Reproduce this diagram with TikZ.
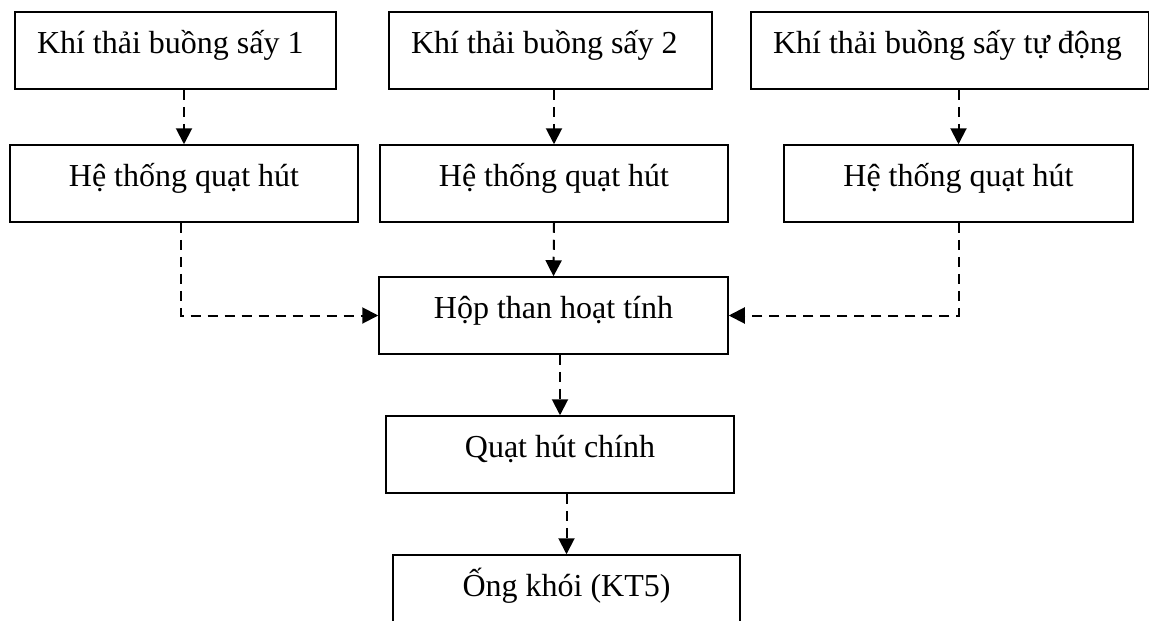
\documentclass[tikz,border=0pt]{standalone}
\usepackage{fontspec}
\setmainfont{Liberation Serif}
\usepackage{tikz}
\usetikzlibrary{arrows.meta}

\begin{document}
\begin{tikzpicture}[x=1pt,y=-1pt,
    box/.style={draw,line width=1.5pt,inner sep=0pt,minimum width=#1,
      text height=41pt,text depth=36pt,font=\fontsize{32}{38}\selectfont},
    srcbox/.style={box=0pt,inner xsep=22pt,text width=#1,align=flush left},
    flow/.style={line width=2pt,dash pattern=on 10pt off 7pt,
      -{Triangle[length=16pt,width=16pt]}}]
  \useasboundingbox (0,0) rectangle (1149,621);
  \clip (0,0) rectangle (1149,621);
  % sources
  \node[srcbox=277pt] (src1) at (175.5,50.5) {Khí thải buồng sấy 1};
  \node[srcbox=279pt] (src2) at (550.5,50.5) {Khí thải buồng sấy 2};
  \node[srcbox=354pt] (src3) at (950,50.5) {Khí thải buồng sấy tự động};
  % fans
  \node[box=348] (fan1) at (184,183.5) {Hệ thống quạt hút};
  \node[box=348] (fan2) at (554,183.5) {Hệ thống quạt hút};
  \node[box=349] (fan3) at (958.5,183.5) {Hệ thống quạt hút};
  % treatment line
  \node[box=349] (carb) at (553.5,315.5) {Hộp than hoạt tính};
  \node[box=348] (mainfan) at (560,454.5) {Quạt hút chính};
  \node[box=347] (stack) at (566.5,593.5) {Ống khói (KT5)};
  \draw[flow] (fan1.north |- src1.south) -- (fan1.north);
  \draw[flow] (fan2.north |- src2.south) -- (fan2.north);
  \draw[flow] (fan3.north |- src3.south) -- (fan3.north);
  \draw[flow] (fan1.south west) ++(172,0) coordinate (l1) -- (l1 |- carb.west) -- (carb.west);
  \draw[flow] (fan2.south) -- (carb.north);
  \draw[flow] (fan3.south) -- (fan3.south |- carb.east) -- (carb.east);
  \draw[flow] (mainfan.north |- carb.south) -- (mainfan.north);
  \draw[flow] (stack.north |- mainfan.south) -- (stack.north);
\end{tikzpicture}
\end{document}
